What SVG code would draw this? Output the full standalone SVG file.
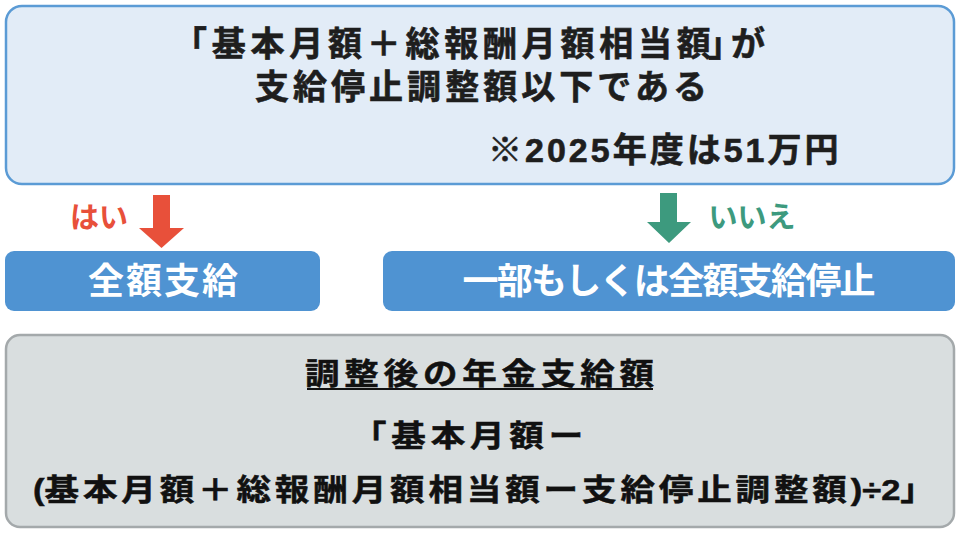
<svg xmlns="http://www.w3.org/2000/svg" width="960" height="540" viewBox="0 0 960 540">
<style>
.t{font-family:"Liberation Sans","Noto Sans CJK JP",sans-serif;font-weight:bold;}
.dk{fill:#1e1e1e;stroke:#1e1e1e;stroke-width:0.6;font-size:34px;}
.bt{fill:#111111;stroke:#111111;stroke-width:0.5;font-size:30px;}
.wh{fill:#ffffff;font-size:36px;}
</style>
<rect width="960" height="540" fill="#ffffff"/>
<g id="condition">
<rect x="6" y="6" width="948" height="178" rx="16" fill="#e2ecf7" stroke="#5b9bd5" stroke-width="2.5"/>
<text class="t dk" x="173 211.75 250.5 289.25 328 366.75 405.5 444.25 483 521.75 560.5 599.25 638 676.75 708 731" y="56">「基本月額＋総報酬月額相当額」が</text>
<text class="t dk" x="255" y="99" textLength="452" lengthAdjust="spacing">支給停止調整額以下である</text>
<text class="t dk" x="488" y="162" letter-spacing="3">※2025年度は51万円</text>
</g>
<g id="connectors">
<polygon points="153,195 170,195 170,228 184,228 161.5,248 139,228 153,228" fill="#e8503a"/>
<text class="t" x="99" y="228" text-anchor="middle" fill="#e8503a" font-size="29">はい</text>
<polygon points="660,193 677,193 677,222 691,222 669,243 647,222 660,222" fill="#3d9a7e"/>
<text class="t" x="752" y="228" text-anchor="middle" fill="#3d9a7e" font-size="29">いいえ</text>
</g>
<g id="full">
<rect x="5" y="251" width="315" height="60" rx="9" fill="#4f93d2"/>
<text class="t wh" x="163" y="294" text-anchor="middle" textLength="150" lengthAdjust="spacing">全額支給</text>
</g>
<g id="partial">
<rect x="383" y="251" width="572" height="60" rx="9" fill="#4f93d2"/>
<text class="t wh" x="669" y="294" text-anchor="middle" textLength="413" lengthAdjust="spacing">一部もしくは全額支給停止</text>
</g>
<g id="result">
<rect x="6" y="335" width="948" height="192" rx="14" fill="#d9dedf" stroke="#a4a9ab" stroke-width="2.5"/>
<text class="t bt" transform="translate(305,0) scale(1.15,1)" x="0" y="384" textLength="303.5" lengthAdjust="spacing">調整後の年金支給額</text>
<line x1="307" y1="389" x2="653" y2="389" stroke="#111111" stroke-width="2"/>
<text class="t bt" transform="translate(352,0) scale(1.15,1)" x="0" y="446" textLength="201" lengthAdjust="spacing">「基本月額ー</text>
<text class="t bt" transform="translate(33,0) scale(1.15,1)" x="0" y="500"><tspan>(</tspan><tspan letter-spacing="3.4">基本月額＋総報酬月額相当額ー支給停止調整額</tspan><tspan>)÷2」</tspan></text>
</g>
</svg>
